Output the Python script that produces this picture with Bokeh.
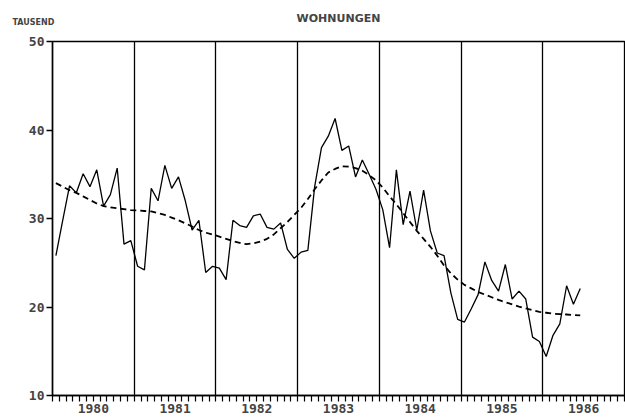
from bokeh.plotting import figure
from bokeh.models import Range1d, FixedTicker, Title
from bokeh.embed import file_html
from bokeh.resources import INLINE
import numpy as np

# Monthly values (thousand dwellings), Jan 1980 - Jun 1986
years = ["1980", "1981", "1982", "1983", "1984", "1985", "1986"]
values = [25.8, 29.8, 33.7, 32.9, 35.05, 33.6, 35.5, 31.4, 32.7, 35.7, 27.1, 27.5,   # 1980
          24.6, 24.2, 33.4, 32.0, 36.0, 33.4, 34.7, 32.0, 28.7, 29.8, 23.9, 24.6,    # 1981
          24.4, 23.1, 29.8, 29.2, 29.0, 30.3, 30.5, 29.0, 28.8, 29.5, 26.5, 25.5,    # 1982
          26.2, 26.4, 33.6, 38.0, 39.3, 41.3, 37.7, 38.2, 34.7, 36.6, 35.0, 33.3,    # 1983
          31.0, 26.7, 35.5, 29.3, 33.1, 28.7, 33.2, 28.6, 26.1, 25.8, 21.6, 18.6,    # 1984
          18.3, 19.8, 21.4, 25.1, 23.0, 21.8, 24.8, 20.9, 21.8, 20.9, 16.6, 16.1,    # 1985
          14.4, 16.8, 18.1, 22.4, 20.3, 22.1]                                        # 1986
trend = [34.0, 33.6, 33.2, 32.9, 32.5, 32.1, 31.7, 31.4, 31.25, 31.15, 31.05, 30.95,
         30.9, 30.85, 30.8, 30.6, 30.4, 30.1, 29.8, 29.45, 29.1, 28.7, 28.4, 28.2,
         27.95, 27.7, 27.45, 27.25, 27.1, 27.2, 27.4, 27.7, 28.2, 28.9, 29.6, 30.4,
         31.2, 32.2, 33.3, 34.3, 35.2, 35.6, 35.9, 35.85, 35.7, 35.4, 34.9, 34.3,
         33.5, 32.5, 31.6, 30.6, 29.6, 28.6, 27.7, 26.8, 25.8, 24.7, 23.8, 23.1,
         22.5, 22.1, 21.7, 21.4, 21.1, 20.8, 20.55, 20.3, 20.05, 19.85, 19.65, 19.45,
         19.35, 19.25, 19.2, 19.15, 19.1, 19.05]
y_ticks = [10, 20, 30, 40, 50]

n_months = len(years) * 12
xs = np.arange(len(values)) + 0.5

p = figure(width=625, height=417, output_backend="svg", toolbar_location=None,
           x_range=Range1d(0, n_months), y_range=Range1d(10, 50),
           min_border_left=52, min_border_right=1, min_border_top=40, min_border_bottom=22)

p.title.text = "WOHNUNGEN"
p.title.align = "center"
p.title.text_font = "DejaVu Sans"
p.title.text_font_style = "bold"
p.title.text_font_size = "11px"
p.title.offset = -8
p.title.standoff = -48

p.add_layout(Title(text="TAUSEND", align="left", offset=-40, standoff=30,
                   text_font="DejaVu Sans", text_font_style="bold", text_font_size="8px"),
             "above")

p.line(xs, values, line_color="black", line_width=1.3)
p.line(xs, trend, line_color="black", line_width=1.8, line_dash="6 4")

# x axis
xa = p.xaxis[0]
centers = [i * 12 + 6 for i in range(len(years))]
xa.ticker = FixedTicker(ticks=centers, minor_ticks=list(range(0, n_months + 1)))
xa.major_label_overrides = {c: y for c, y in zip(centers, years)}
xa.major_tick_out = 0
xa.major_tick_in = 0
xa.minor_tick_out = 6
xa.minor_tick_in = 0
xa.minor_tick_line_width = 1.2
xa.axis_line_width = 1.5
xa.major_label_text_font = "DejaVu Sans Mono"
xa.major_label_text_font_style = "bold"
xa.major_label_text_font_size = "13px"
xa.major_label_standoff = 2

# y axis
ya = p.yaxis[0]
ya.ticker = FixedTicker(ticks=y_ticks)
ya.major_tick_out = 6
ya.major_tick_in = 0
ya.minor_tick_out = 0
ya.minor_tick_in = 0
ya.axis_line_width = 1.5
ya.major_tick_line_width = 1.3
ya.major_label_text_font = "DejaVu Sans Mono"
ya.major_label_text_font_style = "bold"
ya.major_label_text_font_size = "13px"
ya.major_label_standoff = 2

p.ygrid.visible = False
p.xgrid.ticker = FixedTicker(ticks=list(range(12, n_months, 12)))
p.xgrid.grid_line_color = "black"
p.xgrid.grid_line_width = 1.3
p.xgrid.grid_line_alpha = 1.0

p.outline_line_color = "black"
p.outline_line_width = 1.3
p.background_fill_color = "white"
p.border_fill_color = "white"

open("out.html", "w").write(file_html(p, INLINE))
